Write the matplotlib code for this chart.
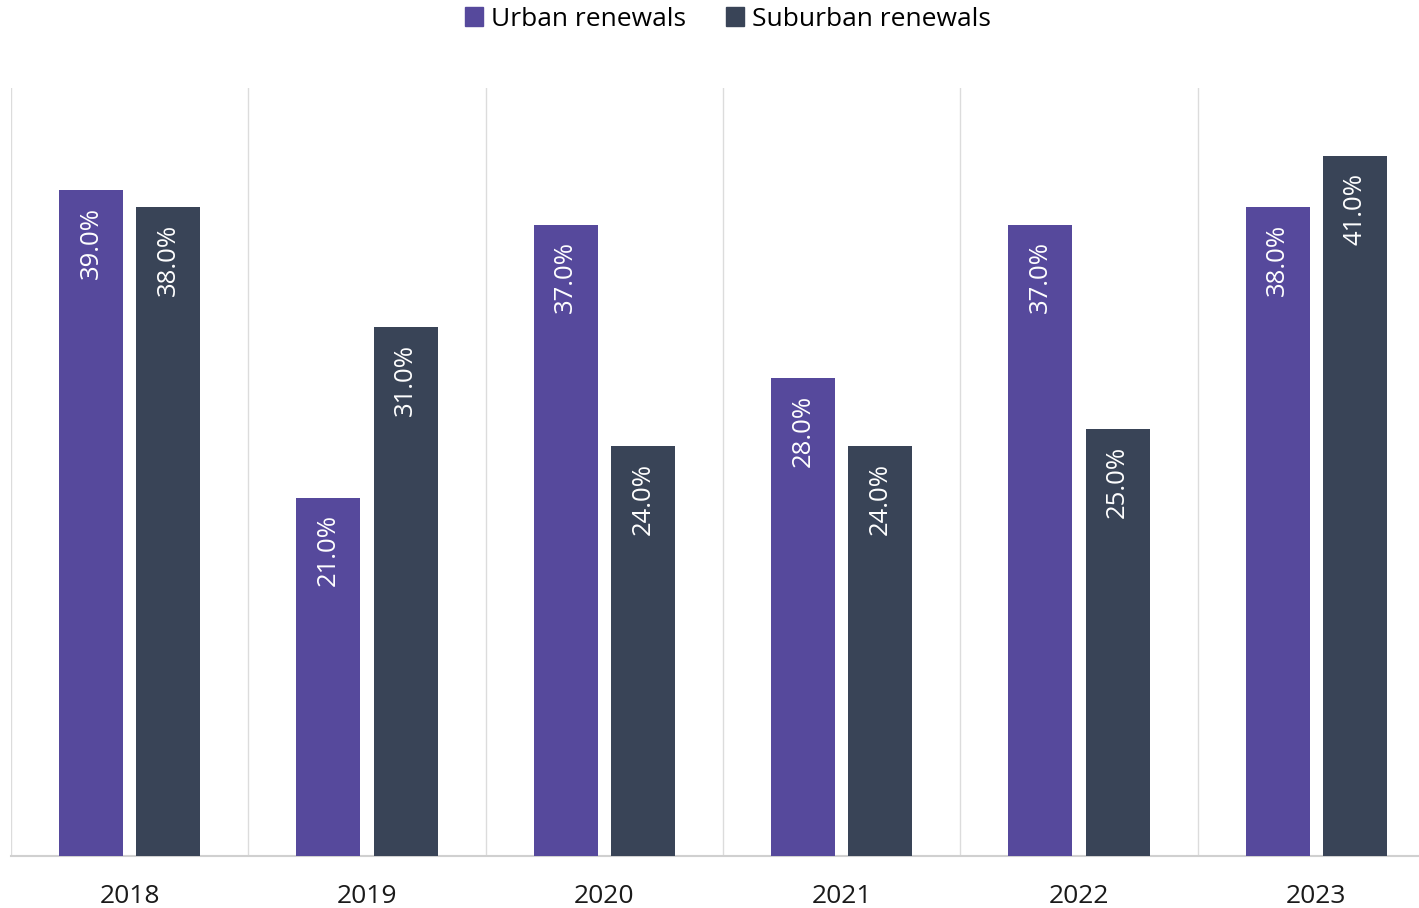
import numpy as np
import matplotlib
matplotlib.use('Agg')
from matplotlib import pyplot as plt
from matplotlib.patches import Patch

plt.rcParams['font.family'] = ['Open Sans', 'DejaVu Sans']

years = ['2018', '2019', '2020', '2021', '2022', '2023']
urban = [39.0, 21.0, 37.0, 28.0, 37.0, 38.0]
suburban = [38.0, 31.0, 24.0, 24.0, 25.0, 41.0]

c_urban = '#56499c'
c_sub = '#394457'

fig = plt.figure(figsize=(14.19, 9.08), dpi=100)
W, H = 1419, 908
ax = fig.add_axes([11 / W, 52 / H, 1424 / W, 768 / H])

x = np.arange(len(years))
bw = 0.27
off = 0.1625
b1 = ax.bar(x - off, urban, bw, color=c_urban, zorder=3)
b2 = ax.bar(x + off, suburban, bw, color=c_sub, zorder=3)

for bars in (b1, b2):
    for r in bars:
        v = r.get_height()
        ax.annotate(f'{v:.1f}%', (r.get_x() + r.get_width() / 2, v),
                    xytext=(0, -12), textcoords='offset points',
                    rotation=90, ha='center', va='top', color='white',
                    fontsize=18.5, zorder=4)

ax.set_xlim(-0.5, len(years) - 0.5)
ax.set_ylim(0, 45)
for i in range(len(years) + 1):
    ax.axvline(i - 0.5, color='#dcdcdc', lw=1, zorder=1)

for s in ['top', 'right', 'left']:
    ax.spines[s].set_visible(False)
ax.spines['bottom'].set_color('#d0d0d0')
ax.spines['bottom'].set_linewidth(1.5)
ax.set_yticks([])
ax.set_xticks(x)
ax.set_xticklabels(years, fontsize=19, color='#1a1a1a')
ax.tick_params(axis='x', length=0, pad=20)

handles = [Patch(color=c_urban, label='Urban renewals'),
           Patch(color=c_sub, label='Suburban renewals')]
fig.legend(handles=handles, loc='center', bbox_to_anchor=(728 / W, 1 - 19 / H),
           ncol=2, frameon=False, fontsize=19, handlelength=0.7, handleheight=0.7,
           handletextpad=0.3, columnspacing=1.5)

fig.savefig('out.png', dpi=100)
